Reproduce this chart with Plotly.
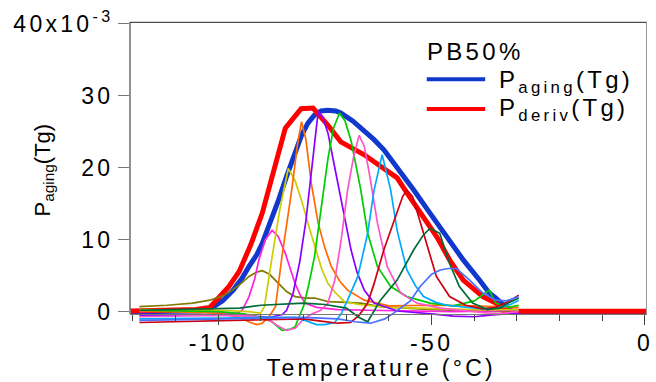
import plotly.graph_objects as go

# ---------------- data (P in units of 1e-3, T in deg C) ----------------
paging_T = [-120.5, -112, -106, -104, -101.4, -99, -96.5, -94.5, -92.8, -91, -89.7, -87.8, -85.9, -84,
            -82, -80.5, -79, -77.5, -75.9, -74.3, -72.5, -71.3, -68.5, -65.8, -63.5, -61.2, -58.1,
            -54.2, -50.4, -46.5, -42.6, -38.8, -36.5, -35.0, -33.4, -32.2, -31, 0.3]
paging_P = [0.0, 0.0, 0.05, 0.1, 0.6, 1.5, 3.0, 4.6, 6.3, 7.9, 9.5, 12.3, 15.5, 18.8,
            22.0, 24.5, 26.2, 27.3, 27.9, 28.0, 27.9, 27.6, 26.5, 25.2, 23.9, 22.5, 20.1,
            16.9, 13.7, 10.4, 7.2, 4.4, 2.6, 1.9, 0.9, 0.4, 0.0, 0.0]

pderiv_T = [-120.5, -110, -105.2, -102, -99.8, -97.5, -95.1, -92.4, -89.7, -87, -84.3, -80.6, -77.8,
            -74.3, -71.3, -65.8, -61.2, -58.1, -55.8, -51.9, -48.8, -45.8, -42.6, -38.0, -35.0,
            -33.4, -29.9, 0.3]
pderiv_P = [0.1, 0.15, 0.3, 0.6, 1.9, 3.5, 5.6, 9.3, 13.7, 19.5, 25.5, 28.2, 28.3,
            25.9, 23.6, 21.8, 19.9, 18.6, 16.5, 13.2, 10.4, 7.2, 4.4, 2.1, 1.2,
            0.2, 0.05, 0.05]

olive_T = [-118.5, -112, -106, -102, -99, -96.7, -94.5, -92.8, -91, -89.7, -88, -85.9, -84, -82,
           -79.5, -77.4, -74.3, -70, -66.6, -62, -56.6, -50, -45, -40, -35, -29.6]
olive_P = [0.7, 0.9, 1.2, 1.6, 2.2, 3.0, 4.0, 4.9, 5.5, 5.7, 5.2, 3.9, 2.8, 2.1,
           1.9, 1.9, 1.4, 1.3, 1.2, 0.7, 0.5, 0.3, 0.2, 0.1, 0.0, 0.2]

magenta_T = [-118.5, -110, -102, -97, -95.5, -94.4, -92.8, -91.5, -90.5, -89, -87.4, -86, -84.3,
             -83, -82, -80.8, -79.7, -77, -72, -65, -55, -45, -35, -29.6]
magenta_P = [0.0, 0.1, 0.0, -0.3, -0.2, 0.2, 2.1, 4.5, 7.2, 10.0, 11.3, 10.5, 8.1,
             5.8, 3.9, 2.3, 1.2, 0.6, 0.3, 0.2, 0.1, 0.0, 0.1, 0.3]

yellow_T = [-118.5, -110, -100, -93, -90.1, -89.2, -88.5, -87.4, -85.5, -83.6, -82, -80.5, -79,
            -77.4, -75.8, -74.3, -72.5, -70.4, -67, -60, -50, -40, -29.6]
yellow_P = [0.3, 0.3, 0.2, 0.0, -0.2, 0.7, 3.5, 7.6, 14.5, 19.9, 18.2, 15.5, 12.3,
            9.0, 6.0, 3.9, 2.6, 1.4, 1.0, 0.6, 0.4, 0.3, 0.3]

orange_T = [-118.5, -110, -100, -95, -92.5, -91, -89.7, -88, -86.6, -85.1, -84, -82.8, -81.5,
            -80.5, -79.5, -78.2, -76.6, -75, -73.5, -71.5, -69.7, -65.8, -60, -50, -40, -29.6]
orange_P = [0.1, 0.0, -0.2, -0.8, -1.5, -1.8, -1.6, -0.6, 0.7, 7.6, 12.0, 16.9, 23.0,
            26.4, 24.0, 17.8, 12.3, 8.8, 6.25, 4.2, 3.0, 1.6, 0.8, 0.9, 0.8, 0.6]

purple_T = [-118.5, -110, -100, -92, -88, -85, -84, -82.5, -80.9, -79.5, -78.5, -77.4, -76.6,
            -75.5, -74.3, -72.7, -71.2, -70, -68.9, -67.5, -65.8, -63.5, -58, -50, -45, -40,
            -35, -29.6]
purple_P = [-0.5, -0.5, -0.4, -0.6, -0.8, -0.4, 0.2, 2.5, 7.0, 12.5, 18.0, 24.0, 27.8,
            27.0, 24.8, 20.0, 15.5, 11.8, 8.6, 5.5, 3.0, 1.2, 0.1, -0.3, -0.6, -0.7,
            -0.4, -0.2]

green_T = [-118.5, -110, -100, -94, -90, -87.4, -85.1, -83, -82, -81, -80, -78.9, -77.5, -76.6,
           -75.5, -74.3, -73, -71.6, -70.3, -68.9, -67.8, -66.6, -65.0, -63.8, -62.7, -59.6,
           -55.8, -50.4, -45, -40, -38, -36.5, -35, -32, -29.6]
green_P = [0.2, 0.1, 0.0, -0.3, -0.8, -1.4, -2.6, -2.4, -2.1, -0.6, 0.8, 3.5, 7.5, 11.3,
           16.0, 21.3, 25.5, 27.6, 26.5, 23.8, 20.5, 16.9, 10.9, 8.3, 6.25, 3.5,
           2.1, 1.2, 0.8, 1.5, 2.4, 3.0, 1.2, 0.6, 0.9]

pink_T = [-118.5, -110, -100, -92, -88, -86, -84, -82, -80, -78, -76, -74.3, -72.7, -71.2,
          -69.7, -68.3, -67.0, -65.8, -64.6, -62.7, -60.4, -57.3, -53.5, -48, -40, -35, -29.6]
pink_P = [-0.7, -0.6, -0.5, -0.6, -1.2, -2.0, -2.6, -2.3, -1.0, -0.3, 0.2, 1.2, 4.4, 10.0,
          16.9, 21.5, 24.5, 23.0, 19.2, 12.3, 6.25, 2.6, 1.2, 0.5, 0.0, -0.3, 0.0]

ltblue_T = [-118.5, -110, -100, -90, -82, -79.7, -77, -75, -72.7, -71.2, -69.7, -67.3, -65.0,
            -63.5, -61.6, -59.6, -58.1, -55.8, -53.8, -51.9, -49, -46.5, -42, -38, -34,
            -31.5, -29.6]
ltblue_P = [-1.0, -1.0, -0.9, -0.8, -0.8, -1.2, -1.8, -1.8, -1.5, -0.3, 1.6, 4.9, 10.9,
            16.9, 21.8, 16.9, 11.3, 5.8, 3.6, 2.1, 1.3, 0.9, 0.6, 0.4, 0.6,
            1.0, 1.6]

dkred_T = [-118.5, -110, -100, -90, -80, -76, -72, -69, -67, -65.0, -63.5, -61.2, -59.5, -58.1,
           -56.8, -55.8, -54.5, -53.5, -51.2, -48.9, -45.8, -42.0, -38, -35, -32, -29.6]
dkred_P = [-1.5, -1.4, -1.3, -1.2, -1.0, -1.3, -1.6, -1.5, -0.5, 1.2, 3.9, 8.6, 11.5, 13.7,
           16.0, 16.9, 16.0, 14.1, 9.5, 4.9, 2.1, 0.9, 0.4, 0.6, 1.4, 2.3]

dkgreen_T = [-118.5, -110, -100, -95, -90, -85, -80, -75, -70, -67, -65.0, -62.0, -58.1, -54.2,
             -52, -50.4, -48.1, -45.8, -43.5, -40.4, -37, -34, -32, -29.6]
dkgreen_P = [0.2, 0.3, 0.4, 0.5, 0.9, 1.1, 1.2, 1.0, 0.5, -0.8, -1.4, 1.6, 4.4, 8.6,
             10.6, 11.6, 10.9, 6.7, 3.5, 1.2, 0.3, 0.5, 1.2, 1.9]

blue_T = [-118.5, -110, -100, -90, -80, -72, -68, -64.3, -61, -58.9, -55, -52.7, -50, -48,
          -46.1, -44.2, -41.1, -38.0, -35.0, -32.5, -29.6]
blue_P = [-1.2, -1.1, -1.0, -0.9, -0.8, -1.0, -1.4, -1.6, -1.0, -0.2, 1.5, 3.5, 5.2, 5.8,
          6.0, 6.0, 4.4, 2.6, 1.6, 1.5, 2.1]

x_tickvals = [-100, -50, 0]
x_ticktext = ["-100", "-50", "0"]
y_tickvals = [0, 10, 20, 30, 40]
y_ticktext = ["0", "10", "20", "30", "40x10<sup>-3</sup>"]

# ---------------- styles ----------------
FONT = "Liberation Sans, Arial, Helvetica, sans-serif"
thin = [
    (olive_T, olive_P, "#807a00"),
    (magenta_T, magenta_P, "#ff22dd"),
    (yellow_T, yellow_P, "#cccc00"),
    (orange_T, orange_P, "#ff6a00"),
    (purple_T, purple_P, "#8a00ff"),
    (green_T, green_P, "#00cc00"),
    (pink_T, pink_P, "#ff55cc"),
    (ltblue_T, ltblue_P, "#00aaff"),
    (dkred_T, dkred_P, "#cc0011"),
    (dkgreen_T, dkgreen_P, "#006a3a"),
    (blue_T, blue_P, "#4a70ff"),
]

fig = go.Figure()
fig.add_trace(go.Scatter(x=paging_T, y=paging_P, mode="lines", name="Paging(Tg)",
                         line=dict(color="#1038cc", width=5), showlegend=False))
fig.add_trace(go.Scatter(x=pderiv_T, y=pderiv_P, mode="lines", name="Pderiv(Tg)",
                         line=dict(color="#ff0000", width=5), showlegend=False))
for tx, py, col in thin:
    fig.add_trace(go.Scatter(x=tx, y=py, mode="lines", line=dict(color=col, width=1.7),
                             showlegend=False, hoverinfo="skip"))

XR = [-120.7, 0.47]
YR = [-3.375, 40.25]
Y_AX = -0.32
xpos = (Y_AX - YR[0]) / (YR[1] - YR[0])

fig.update_layout(
    width=656, height=382,
    margin=dict(l=130, r=5, t=22, b=46),
    paper_bgcolor="white", plot_bgcolor="white",
    font=dict(family=FONT, size=23, color="black"),
    xaxis=dict(range=XR, showgrid=False, zeroline=False, anchor="free", position=xpos,
               showline=True, linecolor="#777", linewidth=1,
               tickvals=x_tickvals, ticktext=x_ticktext, ticks="outside", ticklen=10,
               tickcolor="#444", tickwidth=1, tickfont=dict(size=23), ticklabelstandoff=-2,
               minor=dict(dtick=10, tick0=0, ticks="outside", ticklen=6, tickcolor="#444")),
    yaxis=dict(range=YR, showgrid=False, zeroline=False, showline=False,
               tickvals=y_tickvals, ticktext=y_ticktext, ticks="outside", ticklen=11,
               tickcolor="#777", tickwidth=1, tickfont=dict(size=23)),
    shapes=[
        dict(type="line", xref="paper", yref="y", x0=0, x1=0, y0=Y_AX, y1=YR[1],
             line=dict(color="#222", width=1)),
        dict(type="line", xref="paper", yref="paper", x0=0, x1=1, y0=0.999, y1=0.999,
             line=dict(color="#222", width=1)),
        dict(type="line", xref="paper", yref="y", x0=0.999, x1=0.999, y0=Y_AX, y1=YR[1],
             line=dict(color="#999", width=1)),
        dict(type="line", xref="paper", yref="paper", x0=0.574, x1=0.687, y0=0.818, y1=0.818,
             line=dict(color="#1038cc", width=4)),
        dict(type="line", xref="paper", yref="paper", x0=0.574, x1=0.687, y0=0.723, y1=0.723,
             line=dict(color="#ff0000", width=4)),
    ],
    annotations=[
        dict(text="P<sub>aging</sub>(Tg)", xref="paper", yref="paper", x=-0.167, y=0.529,
             textangle=-90, showarrow=False, xanchor="center", yanchor="middle",
             font=dict(size=22)),
        dict(text="Temperature (°C)", xref="paper", yref="paper", x=0.4856, y=-0.1025,
             showarrow=False, xanchor="center", yanchor="middle", font=dict(size=23)),
        dict(text="PB50%", xref="paper", yref="paper", x=0.570, y=0.906, align="left",
             showarrow=False, xanchor="left", yanchor="middle", font=dict(size=24)),
        dict(text="P<sub>aging</sub>(Tg)", xref="paper", yref="paper", x=0.710, y=0.812,
             align="left", showarrow=False, xanchor="left", yanchor="middle", font=dict(size=24)),
        dict(text="P<sub>deriv</sub>(Tg)", xref="paper", yref="paper", x=0.710, y=0.720,
             align="left", showarrow=False, xanchor="left", yanchor="middle", font=dict(size=24)),
    ],
)

post = """
var gd = document.getElementById('{plot_id}');
gd.querySelectorAll('.xtick text, .ytick text').forEach(function(t){ t.style.letterSpacing = '3.3px'; });
gd.querySelectorAll('.annotation').forEach(function(a){
  if (a.getAttribute('data-index') !== '0') {
    var t = a.querySelector('text'); if (t) { t.style.letterSpacing = '3.3px'; }
  }
});
"""

fig.write_html("out.html", post_script=post, config={"displayModeBar": False})
